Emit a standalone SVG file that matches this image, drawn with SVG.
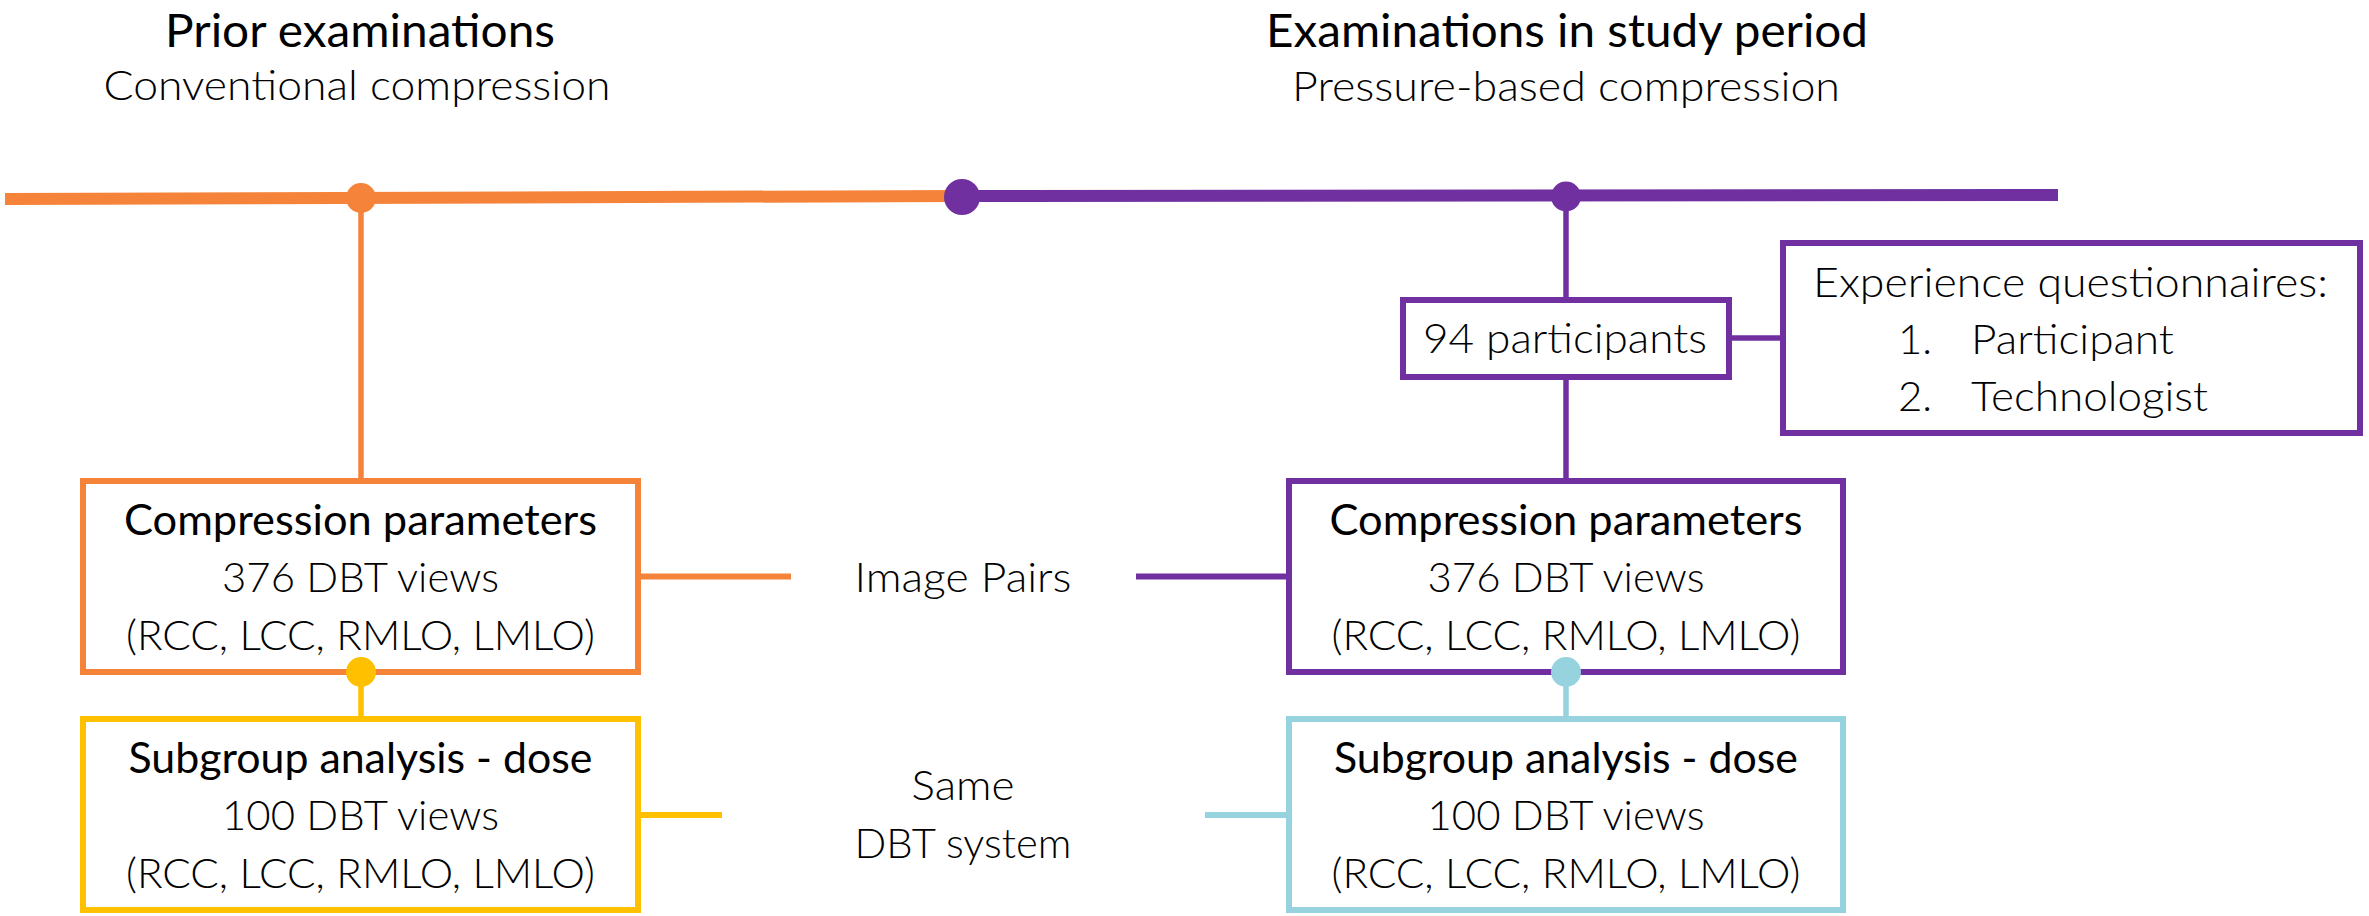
<svg xmlns="http://www.w3.org/2000/svg" width="2369" height="916" viewBox="0 0 2369 916">
<style>
text{font-family:Lato,"Open Sans","Liberation Sans",sans-serif;fill:#000}
.h{font-size:46px;font-weight:400}
.s{font-size:42px;font-weight:300}
.t{font-size:42px;font-weight:400}
.b{font-size:42px;font-weight:300}
.m{text-anchor:middle}
.box{fill:#fff;stroke-width:6}
.or{stroke:#F5833A}.pu{stroke:#7030A0}.ye{stroke:#FFC000}.lb{stroke:#97D3DF}
</style>
<rect width="2369" height="916" fill="#fff"/>
<g id="headings">
<text class="h m" x="360" y="47" textLength="390" lengthAdjust="spacingAndGlyphs">Prior examinations</text>
<text class="s m" x="357" y="100" textLength="507" lengthAdjust="spacingAndGlyphs">Conventional compression</text>
<text class="h m" x="1567" y="47" textLength="602" lengthAdjust="spacingAndGlyphs">Examinations in study period</text>
<text class="s m" x="1566" y="101" textLength="548" lengthAdjust="spacingAndGlyphs">Pressure-based compression</text>
</g>
<g id="connectors" fill="none">
<line x1="5" y1="199" x2="962" y2="196" stroke="#F5833A" stroke-width="12"/>
<line x1="962" y1="196" x2="2058" y2="195" stroke="#7030A0" stroke-width="12"/>
<line x1="361" y1="199" x2="361" y2="481" stroke="#F5833A" stroke-width="5.5"/>
<line x1="1566" y1="196" x2="1566" y2="300" stroke="#7030A0" stroke-width="5.5"/>
<line x1="1566" y1="377" x2="1566" y2="481" stroke="#7030A0" stroke-width="5.5"/>
<line x1="1731" y1="338" x2="1783" y2="338" stroke="#7030A0" stroke-width="5.5"/>
<line x1="361" y1="672" x2="361" y2="719" stroke="#FFC000" stroke-width="5.5"/>
<line x1="1566" y1="672" x2="1566" y2="719" stroke="#97D3DF" stroke-width="5.5"/>
<line x1="638" y1="576.5" x2="791" y2="576.5" stroke="#F5833A" stroke-width="6"/>
<line x1="1136" y1="576.5" x2="1289" y2="576.5" stroke="#7030A0" stroke-width="6"/>
<line x1="638" y1="815" x2="722" y2="815" stroke="#FFC000" stroke-width="6"/>
<line x1="1205" y1="815" x2="1289" y2="815" stroke="#97D3DF" stroke-width="6"/>
</g>
<g id="dots">
<circle cx="361" cy="198" r="15" fill="#F5833A"/>
<circle cx="962" cy="197" r="18" fill="#7030A0"/>
<circle cx="1566" cy="196.5" r="15" fill="#7030A0"/>
</g>
<g id="prior-compression">
<rect class="box or" x="83" y="481" width="555" height="191"/>
<text class="t m" x="360.5" y="535" textLength="473" lengthAdjust="spacingAndGlyphs">Compression parameters</text>
<text class="b m" x="360.5" y="592" textLength="277" lengthAdjust="spacingAndGlyphs">376 DBT views</text>
<text class="b m" x="360.5" y="650" textLength="469" lengthAdjust="spacingAndGlyphs">(RCC, LCC, RMLO, LMLO)</text>
</g>
<g id="prior-subgroup">
<rect class="box ye" x="83" y="719" width="555" height="191"/>
<text class="t m" x="360.5" y="773" textLength="464" lengthAdjust="spacingAndGlyphs">Subgroup analysis - dose</text>
<text class="b m" x="360.5" y="830" textLength="277" lengthAdjust="spacingAndGlyphs">100 DBT views</text>
<text class="b m" x="360.5" y="888" textLength="469" lengthAdjust="spacingAndGlyphs">(RCC, LCC, RMLO, LMLO)</text>
</g>
<g id="study-compression">
<rect class="box pu" x="1289" y="481" width="554" height="191"/>
<text class="t m" x="1566" y="535" textLength="473" lengthAdjust="spacingAndGlyphs">Compression parameters</text>
<text class="b m" x="1566" y="592" textLength="277" lengthAdjust="spacingAndGlyphs">376 DBT views</text>
<text class="b m" x="1566" y="650" textLength="469" lengthAdjust="spacingAndGlyphs">(RCC, LCC, RMLO, LMLO)</text>
</g>
<g id="study-subgroup">
<rect class="box lb" x="1289" y="719" width="554" height="191"/>
<text class="t m" x="1566" y="773" textLength="464" lengthAdjust="spacingAndGlyphs">Subgroup analysis - dose</text>
<text class="b m" x="1566" y="830" textLength="277" lengthAdjust="spacingAndGlyphs">100 DBT views</text>
<text class="b m" x="1566" y="888" textLength="469" lengthAdjust="spacingAndGlyphs">(RCC, LCC, RMLO, LMLO)</text>
</g>
<g id="yellow-dot"><circle cx="361" cy="672" r="15" fill="#FFC000"/></g>
<g id="blue-dot"><circle cx="1566" cy="672" r="15" fill="#97D3DF"/></g>
<g id="participants">
<rect class="box pu" x="1403" y="300" width="326" height="77" stroke-width="5.5"/>
<text class="b m" x="1565" y="353" textLength="284" lengthAdjust="spacingAndGlyphs">94 participants</text>
</g>
<g id="questionnaires">
<rect class="box pu" x="1783" y="243" width="577" height="190"/>
<text class="b" x="1813" y="297" textLength="515" lengthAdjust="spacingAndGlyphs">Experience questionnaires:</text>
<text class="b" x="1898" y="354">1.</text>
<text class="b" x="1971" y="354" textLength="203" lengthAdjust="spacingAndGlyphs">Participant</text>
<text class="b" x="1898" y="411">2.</text>
<text class="b" x="1971" y="411" textLength="237" lengthAdjust="spacingAndGlyphs">Technologist</text>
</g>
<g id="image-pairs"><text class="b m" x="963" y="592" textLength="217" lengthAdjust="spacingAndGlyphs">Image Pairs</text></g>
<g id="same-system">
<text class="b m" x="963" y="800" textLength="103" lengthAdjust="spacingAndGlyphs">Same</text>
<text class="b m" x="963" y="858" textLength="217" lengthAdjust="spacingAndGlyphs">DBT system</text>
</g>
</svg>
